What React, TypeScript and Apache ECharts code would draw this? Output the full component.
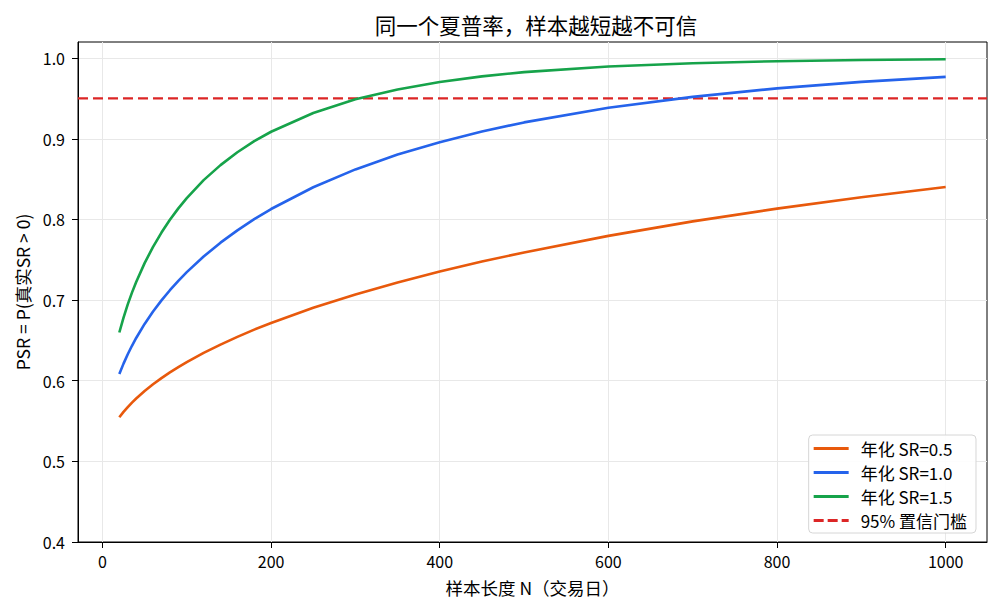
import React, { useEffect, useRef } from "react";
import * as echarts from "echarts";

const sampleN = [20, 25, 30, 35, 40, 50, 60, 70, 80, 90, 100, 120, 140, 160, 180, 200, 250, 300, 350, 400, 450, 500, 600, 700, 800, 900, 1000];
const psrSR05 = [0.5546, 0.5613, 0.5673, 0.5729, 0.578, 0.5872, 0.5956, 0.6032, 0.6103, 0.6168, 0.623, 0.6345, 0.6447, 0.6543, 0.6633, 0.6716, 0.6904, 0.707, 0.7219, 0.7354, 0.7478, 0.759, 0.7796, 0.7976, 0.8134, 0.8275, 0.8403];
const psrSR10 = [0.6082, 0.6212, 0.6328, 0.6433, 0.653, 0.6704, 0.6858, 0.6996, 0.7122, 0.7238, 0.7346, 0.754, 0.7712, 0.7864, 0.8003, 0.8129, 0.8399, 0.862, 0.8804, 0.8958, 0.909, 0.9203, 0.9384, 0.952, 0.9625, 0.9705, 0.9768];
const psrSR15 = [0.6598, 0.6782, 0.6946, 0.7092, 0.7224, 0.7458, 0.766, 0.7837, 0.7995, 0.8137, 0.8264, 0.8487, 0.8673, 0.8833, 0.897, 0.9087, 0.932, 0.9489, 0.9612, 0.9704, 0.9774, 0.9826, 0.9896, 0.9937, 0.9962, 0.9977, 0.9986];
const threshold = 0.95;
const xTicks = [0, 200, 400, 600, 800, 1000];
const yTicks = [0.4, 0.5, 0.6, 0.7, 0.8, 0.9, 1.0];
const xMin = -29;
const xMax = 1049;
const yMin = 0.4;
const yMax = 1.02;
const seriesNames = ["年化 SR=0.5", "年化 SR=1.0", "年化 SR=1.5", "95% 置信门槛"];
const colors = ["#e8590c", "#2563eb", "#16a34a", "#dc2626"];

const FONT = '"Noto Sans CJK SC", "Noto Sans", sans-serif';
const SOLID_ICON = "path://M0 0H35V3H0Z";
const DASH_ICON = "path://M0 0H10V3H0Z M14 0H24V3H14Z M28 0H35V3H28Z";

export default function App() {
  const ref = useRef<HTMLDivElement>(null);
  useEffect(() => {
    if (!ref.current) return;
    const chart = echarts.init(ref.current, null, { renderer: "svg" });
    const pairs = (ys: number[]) => sampleN.map((n, i) => [n, ys[i]]);
    const curve = (name: string, ys: number[], color: string) => ({
      name,
      type: "line",
      data: pairs(ys),
      smooth: false,
      showSymbol: false,
      symbol: "none",
      lineStyle: { color, width: 2.6, join: "round" },
      itemStyle: { color },
      z: 3,
    });
    chart.setOption({
      animation: false,
      textStyle: { fontFamily: FONT },
      title: {
        text: "同一个夏普率，样本越短越不可信",
        left: 531,
        top: 9,
        textAlign: "center",
        textStyle: { fontSize: 21.5, fontWeight: "normal", color: "#000", fontFamily: FONT },
      },
      grid: {
        left: 78,
        right: 10,
        top: 42,
        bottom: 69,
        show: true,
        borderColor: "#000",
        borderWidth: 1,
        backgroundColor: "transparent",
      },
      legend: {
        orient: "vertical",
        right: 21,
        bottom: 78,
        itemWidth: 35,
        itemHeight: 3,
        itemGap: 7,
        padding: [5, 9, 4, 5],
        borderColor: "#d6d6d6",
        borderWidth: 1,
        borderRadius: 4,
        backgroundColor: "rgba(255,255,255,0.9)",
        textStyle: { fontSize: 17, color: "#000", fontFamily: FONT, padding: [0, 0, 0, 7] },
        data: seriesNames.map((n, i) => ({ name: n, icon: i === 3 ? DASH_ICON : SOLID_ICON })),
      },
      xAxis: {
        type: "value",
        min: xMin,
        max: xMax,
        name: "样本长度 N（交易日）",
        nameLocation: "middle",
        nameGap: 37,
        nameTextStyle: { fontSize: 17.5, color: "#000", fontFamily: FONT },
        axisLine: { show: true, onZero: false, lineStyle: { color: "#000", width: 1 } },
        axisTick: { show: true, customValues: xTicks, length: 6, inside: false, lineStyle: { color: "#000" } },
        axisLabel: {
          customValues: xTicks,
          fontSize: 16,
          color: "#000",
          margin: 11,
          fontFamily: FONT,
          formatter: (v: number) => String(v),
        },
        splitLine: { show: true, lineStyle: { color: "#e8e8e8", width: 1 } },
      },
      yAxis: {
        type: "value",
        min: yMin,
        max: yMax,
        name: "PSR = P(真实SR > 0)",
        nameLocation: "middle",
        nameGap: 47,
        nameTextStyle: { fontSize: 17.5, color: "#000", fontFamily: FONT },
        axisLine: { show: true, onZero: false, lineStyle: { color: "#000", width: 1 } },
        axisTick: { show: true, customValues: yTicks, length: 6, inside: false, lineStyle: { color: "#000" } },
        axisLabel: {
          customValues: yTicks,
          fontSize: 16,
          color: "#000",
          margin: 13,
          fontFamily: FONT,
          formatter: (v: number) => v.toFixed(1),
        },
        splitLine: { show: true, lineStyle: { color: "#e8e8e8", width: 1 } },
      },
      series: [
        curve(seriesNames[0], psrSR05, colors[0]),
        curve(seriesNames[1], psrSR10, colors[1]),
        curve(seriesNames[2], psrSR15, colors[2]),
        {
          name: seriesNames[3],
          type: "line",
          data: [
            [xMin, threshold],
            [xMax, threshold],
          ],
          showSymbol: false,
          symbol: "none",
          lineStyle: { color: colors[3], width: 2.2, type: [10, 5] },
          itemStyle: { color: colors[3] },
          z: 2,
        },
      ],
    });
    return () => chart.dispose();
  }, []);
  return <div ref={ref} style={{ width: 997, height: 611, position: "absolute", left: 0, top: 0 }} />;
}
